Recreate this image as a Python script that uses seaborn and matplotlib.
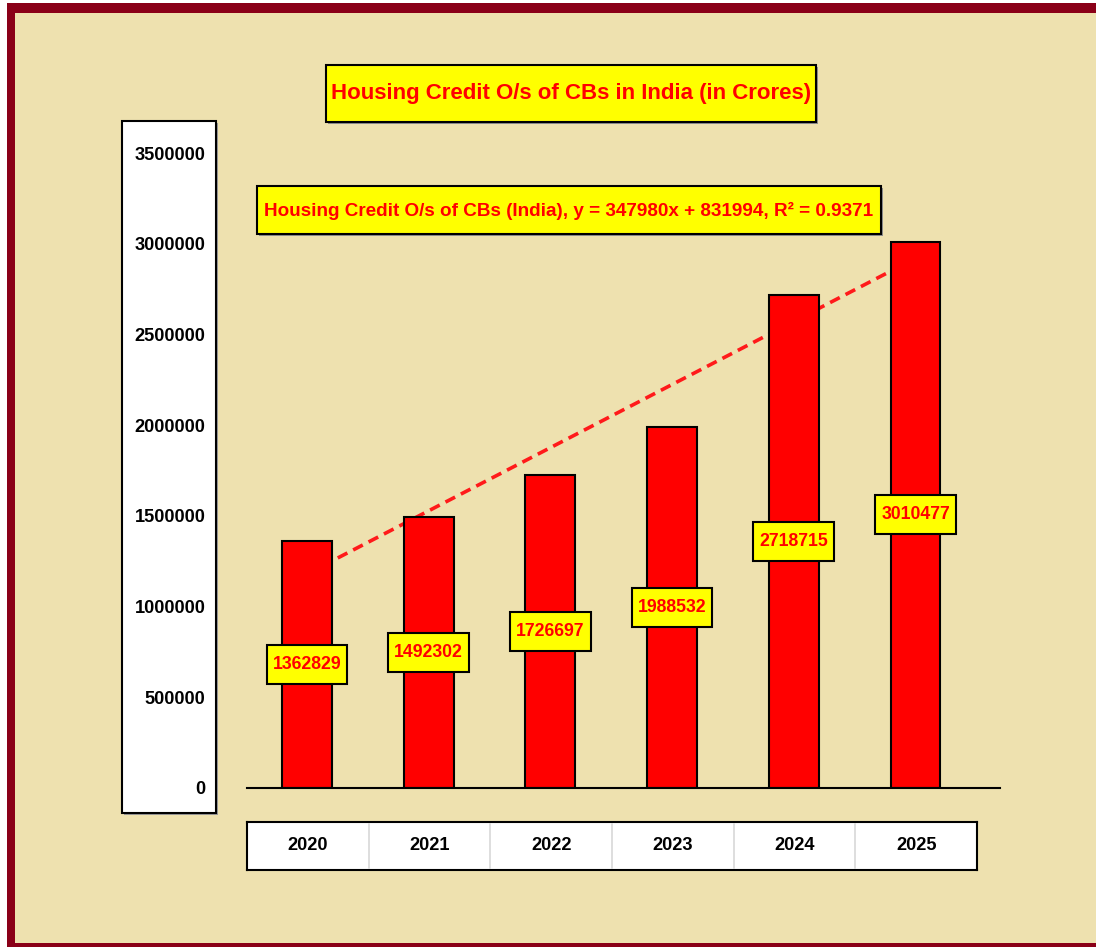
import numpy as np
import matplotlib
matplotlib.use("Agg")
import matplotlib.pyplot as plt
import matplotlib.font_manager as fm
from matplotlib.patches import Rectangle
from matplotlib.path import Path
import seaborn as sns

# ---------------- data ----------------
years = ["2020", "2021", "2022", "2023", "2024", "2025"]
credit = [1362829, 1492302, 1726697, 1988532, 2718715, 3010477]
y_ticks = [0, 500000, 1000000, 1500000, 2000000, 2500000, 3000000, 3500000]
title_text = "Housing Credit O/s of CBs in India (in Crores)"
trend_name = "Housing Credit O/s of CBs (India)"

# ---------------- style ----------------
sns.set_theme(style="white")
names = {f.name for f in fm.fontManager.ttflist}
narrow = "Liberation Sans Narrow" in names
FAM = ["Liberation Sans Narrow", "Liberation Sans", "DejaVu Sans"] if narrow else ["Liberation Sans", "DejaVu Sans"]
k = 1.0 if narrow else 0.82
plt.rcParams["font.family"] = FAM

W, H = 1096, 947
fig = plt.figure(figsize=(W / 100, H / 100), dpi=100)
fig.patch.set_facecolor("white")

MAROON = "#8A0018"
BEIGE = "#EEE1AF"


def box(x0, y0, x1, y1):
    """pixel box (top-left origin) -> figure fraction rect"""
    return (x0 / W, 1 - y1 / H, (x1 - x0) / W, (y1 - y0) / H)


def rect(x0, y0, x1, y1, fc, ec="none", lw=0, z=0):
    l, b, w, h = box(x0, y0, x1, y1)
    fig.add_artist(Rectangle((l, b), w, h, transform=fig.transFigure,
                             facecolor=fc, edgecolor=ec, linewidth=lw, zorder=z))


def label_box(x0, y0, width, height, mutation_size):
    """square box with separate horizontal / vertical padding (pixels)"""
    px, py = 6.0, 11.0
    x0, y0 = x0 - px, y0 - py
    x1, y1 = x0 + width + 2 * px, y0 + height + 2 * py
    return Path([(x0, y0), (x1, y0), (x1, y1), (x0, y1), (x0, y0)],
                closed=True)


# frame
rect(7, 3, W + 10, H + 10, MAROON, z=-10)
rect(15, 13, W + 10, 943, BEIGE, z=-9)

# y-label white panel (with slight shadow)
rect(124, 123, 218, 815, "#9a9a9a", z=-8)
rect(122, 121, 216, 813, "white", ec="black", lw=1.5, z=-7)

# title box
rect(328, 67, 818, 124, "#8f8f8f", z=-8)
rect(326, 65, 816, 122, "#FFFF00", ec="black", lw=1.5, z=-7)
fig.text(571 / W, 1 - 94 / H, title_text, ha="center", va="center",
         color="#FF0000", fontsize=16.0 if not narrow else 19.5,
         fontweight="bold", zorder=5)

# ---------------- main axes ----------------
X0, X1 = 247, 1000
Y0, Y1 = 153, 788
ax = fig.add_axes(box(X0, Y0, X1, Y1))
ax.patch.set_alpha(0)
sns.barplot(x=years, y=credit, color="#FF0000", edgecolor="black",
            linewidth=1.5, width=0.41, saturation=1, ax=ax, zorder=2)
ax.set_xlim(-0.493, 5.694)
ax.set_ylim(0, 3500000)
ax.set_yticks(y_ticks)
ax.set_yticklabels([str(v) for v in y_ticks], fontsize=16 * k,
                   fontweight="bold", color="black")
ax.tick_params(axis="y", length=0, pad=30)
ax.set_xticks([])
ax.set_xlabel("")
ax.set_ylabel("")
for s in ["left", "right", "top"]:
    ax.spines[s].set_visible(False)
ax.spines["bottom"].set_color("black")
ax.spines["bottom"].set_linewidth(1.5)

# linear trend (fitted on x = 1..6)
xs = np.arange(1, len(credit) + 1)
slope, intercept = np.polyfit(xs, credit, 1)
r2 = np.corrcoef(xs, credit)[0, 1] ** 2
pos = np.arange(len(credit))
ax.plot(pos, slope * xs + intercept, color="#FF1A1A", lw=2.6,
        ls=(0, (3, 1.8)), zorder=1)

# value labels
for i, v in enumerate(credit):
    ax.text(i, v / 2, str(v), ha="center", va="center", color="#FF0000",
            fontsize=15.5 * k, fontweight="bold", zorder=6,
            bbox=dict(boxstyle=label_box, facecolor="#FFFF00",
                      edgecolor="black", linewidth=1.5))

# trend equation box
rect(259, 188, 883, 236, "#8f8f8f", z=-8)
rect(257, 186, 881, 234, "#FFFF00", ec="black", lw=1.5, z=-7)
eq = f"{trend_name}, y = {slope:.0f}x + {intercept:.0f}, R\u00b2 = {r2:.4f}"
fig.text(569 / W, 1 - 211 / H, eq, ha="center", va="center",
         color="#FF0000", fontsize=13.6 if not narrow else 16.5,
         fontweight="bold", zorder=5)

# ---------------- category table ----------------
tab = fig.add_axes(box(247, 822, 977, 870))
tab.set_facecolor("white")
tab.set_xlim(-0.5, 5.5)
tab.set_ylim(0, 1)
tab.set_xticks([])
tab.set_yticks([])
for s in tab.spines.values():
    s.set_color("black")
    s.set_linewidth(1.5)
for b in np.arange(0.5, len(years) - 0.5, 1):
    tab.axvline(b, color="#d8d8d8", lw=1.2, ymin=0.04, ymax=0.96)
for i, yr in enumerate(years):
    tab.text(i, 0.5, yr, ha="center", va="center", fontsize=16 * k,
             fontweight="bold", color="black")

fig.savefig("out.png", dpi=100, facecolor=fig.get_facecolor())
